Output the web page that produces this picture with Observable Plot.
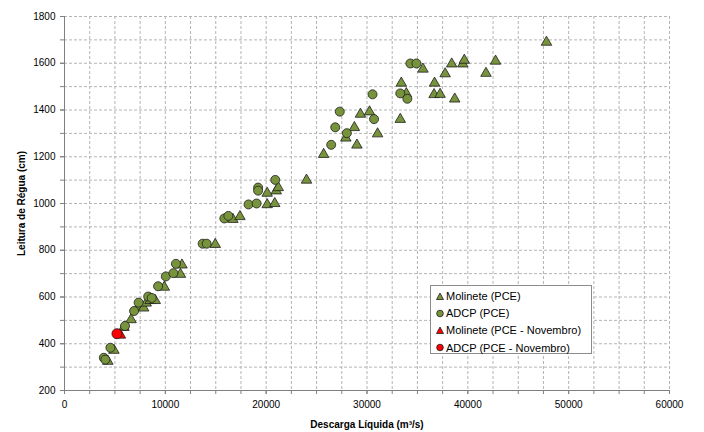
<!DOCTYPE html>
<html><head><meta charset="utf-8">
<script src="https://cdn.jsdelivr.net/npm/d3@7"></script>
<script src="https://cdn.jsdelivr.net/npm/@observablehq/plot@0.6"></script>
<style>
body{margin:0;background:#fff;font-family:"Liberation Sans",Arial,sans-serif}
#wrap{position:relative;width:704px;height:432px}
#legend{position:absolute;left:430px;top:285px;width:162px;height:69px;border:1px solid #8c8c8c;background:#fff;font-size:11px;color:#000;box-sizing:border-box}
#legend .row{position:absolute;left:5px;height:16px;display:flex;align-items:center;white-space:nowrap}
#legend svg{margin-right:2px}
g[aria-label="x-axis label"] text, g[aria-label="y-axis label"] text{font-weight:bold}
</style></head><body><div id="wrap"></div>
<script>
// Molinete (PCE)  — discharge (m³/s) and gauge reading (cm)
const molineteQ = [4300,4900,5900,6600,7300,7850,8100,8500,9000,9900,11500,11650,14950,16700,17400,20100,20850,20100,21000,21200,24000,25700,27900,28750,29000,29350,30250,31050,33300,33400,33900,35550,36700,36650,37250,37750,38700,38400,39500,39650,41800,42750,47800];
const molineteH = [325,372,470,503,557,553,574,585,585,642,697,737,825,932,944,995,1000,1044,1054,1068,1100,1210,1280,1325,1250,1382,1392,1298,1360,1515,1470,1575,1515,1466,1467,1555,1447,1597,1597,1613,1557,1609,1690];
// ADCP (PCE)
const adcpQ = [3900,4050,4550,6000,6900,7350,8300,8650,9280,10050,10800,11050,13700,14100,15850,16250,18250,19050,19200,19200,20900,26450,26850,27300,28000,30550,30700,33300,34000,34300,34900];
const adcpH = [340,332,383,476,540,576,602,596,646,688,702,742,828,828,936,947,996,1000,1068,1055,1101,1251,1326,1393,1301,1467,1361,1471,1448,1599,1599];
// Novembro
const molNovQ = [5550], molNovH = [437];
const adcpNovQ = [5200], adcpNovH = [443];

const xLabelTicks = [0,10000,20000,30000,40000,50000,60000];
const yLabelTicks = [200,400,600,800,1000,1200,1400,1600,1800];
const xGridVals = d3.range(0, 60001, 2500);
const yGridVals = d3.range(200, 1801, 100);

const seriesNames = ["Molinete (PCE)","ADCP (PCE)","Molinete (PCE - Novembro)","ADCP (PCE - Novembro)"];
const olive = "#77933c", red = "#ff0000", edge = "#1e1e1e";

const toRows = (qs, hs) => qs.map((q, i) => ({q, h: hs[i]}));
const mol = toRows(molineteQ, molineteH);
const adcp = toRows(adcpQ, adcpH);
const molNov = toRows(molNovQ, molNovH);
const adcpNov = toRows(adcpNovQ, adcpNovH);

const chart = Plot.plot({
  width: 704, height: 432,
  marginLeft: 64, marginRight: 35, marginTop: 16, marginBottom: 42,
  style: {fontFamily: "Liberation Sans, Arial, sans-serif", fontSize: "10px", color: "#000", background: "#fff"},
  x: {domain: [0, 60000]},
  y: {domain: [200, 1800]},
  marks: [
    Plot.gridX(xGridVals, {stroke: "#b4b4b4", strokeOpacity: 1, strokeDasharray: "3,2"}),
    Plot.gridY(yGridVals, {stroke: "#b4b4b4", strokeOpacity: 1, strokeDasharray: "3,2"}),
    Plot.axisX(xGridVals, {tickSize: 4, stroke: "#808080", tickFormat: () => "", label: null}),
    Plot.axisX(xLabelTicks, {tickSize: 4, tickPadding: 6, stroke: "#808080", fill: "#000", tickFormat: d => String(d),
      label: "Descarga Líquida (m³/s)", labelAnchor: "center", labelArrow: "none", labelOffset: 37}),
    Plot.axisY(yGridVals, {tickSize: 4, stroke: "#808080", tickFormat: () => "", label: null}),
    Plot.axisY(yLabelTicks, {tickSize: 4, tickPadding: 5, stroke: "#808080", fill: "#000", tickFormat: d => String(d),
      label: "Leitura de Régua (cm)", labelAnchor: "center", labelArrow: "none", labelOffset: 47}),
    Plot.ruleX([0], {stroke: "#808080"}),
    Plot.ruleY([200], {stroke: "#808080"}),
    Plot.dot(mol, {x: "q", y: "h", symbol: "triangle", r: 3.9, fill: olive, stroke: edge, strokeWidth: 0.8}),
    Plot.dot(adcp, {x: "q", y: "h", symbol: "circle", r: 4.5, fill: olive, stroke: edge, strokeWidth: 0.8}),
    Plot.dot(molNov, {x: "q", y: "h", symbol: "triangle", r: 3.9, fill: red, stroke: edge, strokeWidth: 0.8}),
    Plot.dot(adcpNov, {x: "q", y: "h", symbol: "circle", r: 5, fill: red, stroke: edge, strokeWidth: 0.8})
  ]
});
const wrap = document.getElementById("wrap");
wrap.appendChild(chart);

// legend
const legend = document.createElement("div");
legend.id = "legend";
const markers = [
  `<polygon points="4,1 7.5,7.5 0.5,7.5" fill="${olive}" stroke="${edge}" stroke-width="0.8"/>`,
  `<circle cx="4" cy="4.5" r="3.3" fill="${olive}" stroke="${edge}" stroke-width="0.8"/>`,
  `<polygon points="4,1 7.5,7.5 0.5,7.5" fill="${red}" stroke="${edge}" stroke-width="0.8"/>`,
  `<circle cx="4" cy="4.5" r="3.3" fill="${red}" stroke="${edge}" stroke-width="0.8"/>`
];
seriesNames.forEach((name, i) => {
  const row = document.createElement("div");
  row.className = "row";
  row.style.top = (2 + i * 17.2) + "px";
  row.innerHTML = `<svg width="8" height="9" viewBox="0 0 8 9">${markers[i]}</svg><span>${name}</span>`;
  legend.appendChild(row);
});
wrap.appendChild(legend);
</script>
</body></html>
